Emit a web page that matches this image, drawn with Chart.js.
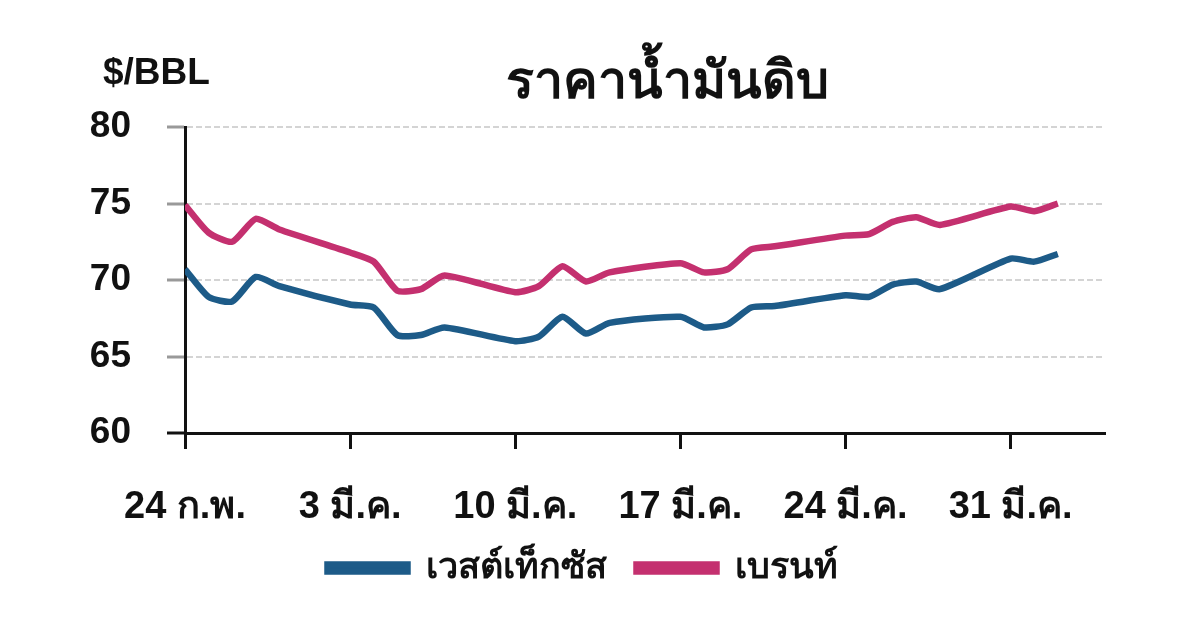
<!DOCTYPE html>
<html>
<head>
<meta charset="utf-8">
<script src="https://cdn.jsdelivr.net/npm/chart.js@4"></script>
<style>
  body { margin: 0; background: #fff; }
  #wrap { width: 1200px; height: 630px; }
</style>
</head>
<body>
<div id="wrap"><canvas id="oilChart" width="1200" height="630"></canvas></div>
<script>
// trading days, Feb 24 - Apr 2
const tradingDays = [
    '2025-02-24', '2025-02-25', '2025-02-26', '2025-02-27', '2025-02-28',
    '2025-03-03', '2025-03-04', '2025-03-05', '2025-03-06', '2025-03-07',
    '2025-03-10', '2025-03-11', '2025-03-12', '2025-03-13', '2025-03-14',
    '2025-03-17', '2025-03-18', '2025-03-19', '2025-03-20', '2025-03-21',
    '2025-03-24', '2025-03-25', '2025-03-26', '2025-03-27', '2025-03-28',
    '2025-03-31', '2025-04-01', '2025-04-02'
];
const wti = [
    70.7, 68.9, 68.6, 70.2, 69.6,
    68.4, 68.2, 66.4, 66.4, 66.9,
    66.0, 66.3, 67.6, 66.5, 67.2,
    67.6, 66.9, 67.1, 68.2, 68.3,
    69.0, 68.9, 69.7, 69.9, 69.4,
    71.4, 71.2, 71.7
];
const brent = [
    74.9, 73.1, 72.5, 74.0, 73.3,
    71.8, 71.2, 69.3, 69.4, 70.3,
    69.2, 69.6, 70.9, 69.9, 70.5,
    71.1, 70.5, 70.7, 72.0, 72.2,
    72.9, 73.0, 73.8, 74.1, 73.6,
    74.8, 74.5, 75.0
];
const seriesNames = ['เวสต์เท็กซัส', 'เบรนท์'];
const tickLabels = ['24 ก.พ.', '3 มี.ค.', '10 มี.ค.', '17 มี.ค.', '24 มี.ค.', '31 มี.ค.'];
const chartTitle = 'ราคาน้ำมันดิบ';
const unitLabel = '$/BBL';

const FONT = 'Arial, "Liberation Sans", "Noto Sans", sans-serif';
const start = new Date(tradingDays[0] + 'T00:00:00Z');
const dayIndex = tradingDays.map(d => Math.round((new Date(d + 'T00:00:00Z') - start) / 86400000));
const toPoints = vals => vals.map((v, i) => ({ x: dayIndex[i], y: v }));

const textPlugin = {
    id: 'textPlugin',
    afterDraw(chart) {
        const ctx = chart.ctx;
        ctx.save();
        ctx.fillStyle = '#111';
        ctx.textBaseline = 'middle';
        ctx.font = 'bold 37px ' + FONT;
        ctx.textAlign = 'left';
        ctx.fillText(unitLabel, 103, 74);
        ctx.font = 'bold 52px ' + FONT;
        ctx.textAlign = 'center';
        ctx.fillText(chartTitle, 667, 84);
        ctx.restore();
    }
};

const ctx = document.getElementById('oilChart');

new Chart(ctx, {
    type: 'line',
    data: {
        datasets: [{
            label: seriesNames[0],
            data: toPoints(wti),
            borderColor: '#1d5b88',
            backgroundColor: '#1d5b88',
            borderWidth: 6.5,
            pointRadius: 0,
            tension: 0.2,
        }, {
            label: seriesNames[1],
            data: toPoints(brent),
            borderColor: '#c4306f',
            backgroundColor: '#c4306f',
            borderWidth: 6.5,
            pointRadius: 0,
            tension: 0.2,
        }]
    },
    options: {
        responsive: false,
        animation: false,
        layout: {
            padding: { top: 127, left: 60, right: 95, bottom: 34 }
        },
        plugins: {
            legend: {
                position: 'bottom',
                labels: {
                    boxWidth: 80,
                    boxHeight: 7,
                    padding: 30,
                    color: '#111',
                    font: { family: FONT, size: 36, weight: 'bold' },
                }
            },
            tooltip: { enabled: false },
        },
        scales: {
            x: {
                type: 'linear',
                min: 0,
                max: 39,
                afterFit(scale) { scale.height = 87; },
                ticks: {
                    stepSize: 7,
                    includeBounds: false,
                    color: '#111',
                    padding: 36,
                    maxRotation: 0,
                    font: { family: FONT, size: 38, weight: 'bold' },
                    callback: (v) => tickLabels[v / 7],
                },
                grid: {
                    drawOnChartArea: false,
                    tickLength: 16,
                    tickWidth: 3,
                    tickColor: '#111',
                },
                border: { color: '#111', width: 3 },
            },
            y: {
                min: 60,
                max: 80,
                afterFit(scale) { scale.width = 125; },
                ticks: {
                    stepSize: 5,
                    color: '#111',
                    padding: 36,
                    font: { family: FONT, size: 37, weight: 'bold' },
                },
                grid: {
                    color: '#d4d4d4',
                    lineWidth: 2,
                    tickLength: 18,
                    tickWidth: 3,
                    tickColor: (c) => c.tick && c.tick.value === 60 ? '#111' : '#999',
                },
                border: { color: '#111', width: 3, dash: [6, 3] },
            }
        }
    },
    plugins: [textPlugin]
});
</script>
</body>
</html>
